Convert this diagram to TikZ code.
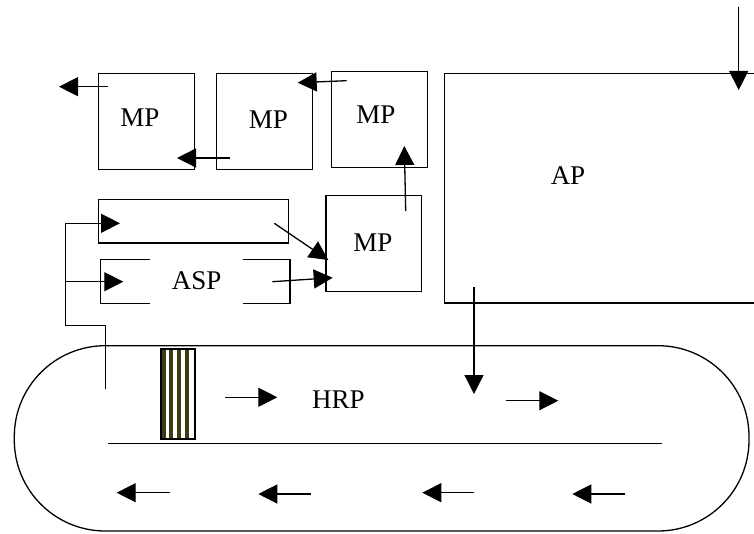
\documentclass[tikz,border=0pt]{standalone}
\usepackage{fontspec}
\setmainfont{Liberation Serif}
\usetikzlibrary{arrows.meta}
\definecolor{olivedark}{RGB}{62,58,18}
\begin{document}
\begin{tikzpicture}[x=0.5pt,y=-0.5pt,
  every node/.style={font=\fontsize{13.5}{15}\selectfont},
  ln/.style={line width=0.65pt},
  arr/.style={ln,-{Triangle[length=9.5pt,width=9.5pt]}},
  boxnode/.style={draw,ln,inner sep=0pt,anchor=north west},
  lbl/.style={inner sep=0pt}]
\useasboundingbox (0,0) rectangle (754,534);
\clip (0,0) rectangle (754,534);

% boxes
\node[boxnode,minimum width=48.2pt,minimum height=48pt] (mp1) at (97.7,72.7) {};
\node[lbl] (mp1t) at (140,117.3) {MP};
\node[boxnode,minimum width=48pt,minimum height=48pt] (mp2) at (216,72.7) {};
\node[lbl] (mp2t) at (268.3,119.3) {MP};
\node[boxnode,minimum width=48.2pt,minimum height=47.8pt] (mp3) at (330.7,71) {};
\node[lbl] (mp3t) at (376,115) {MP};
\node[boxnode,minimum width=47.8pt,minimum height=48pt] (mp4) at (325.3,195) {};
\node[lbl] (mp4t) at (373,243) {MP};
\node[boxnode,minimum width=160pt,minimum height=114.8pt] (ap) at (443.7,72.7) {};
\node[lbl] (apt) at (568,175.7) {AP};
\node[boxnode,minimum width=95pt,minimum height=21.7pt] (rect) at (97.7,199) {};
\node[boxnode,minimum width=94.8pt,minimum height=21.8pt] (asp) at (99.7,259) {};
\node[fill=white,inner sep=0pt,minimum width=46.5pt,minimum height=25pt] (aspt) at (196.7,281) {ASP};

% HRP track
\draw[ln,rounded corners=45.5pt] (14.3,345.7) rectangle (749,531);
\coordinate (il) at (108.3,443.7);
\coordinate (ir) at (662.3,443.7);
\draw[ln] (il) -- (ir);
\node[lbl] (hrp) at (338.3,400) {HRP};

% striped block
\node[draw,ln,fill=white,inner sep=0pt,anchor=north west,minimum width=16.3pt,minimum height=44.6pt] (stripe) at (161,349) {};
\foreach \s in {161.5,169,177,185}{
  \fill[olivedark] (\s,349.8) rectangle (\s+4,437.6);
}
\draw[ln] (stripe.north west) rectangle (stripe.south east);

% connectors
\coordinate (a1s) at (108,86.7); \coordinate (a1e) at (59,86.7);
\draw[arr] (a1s) -- (a1e);
\coordinate (a2s) at (230,158); \coordinate (a2e) at (177,158);
\draw[arr] (a2s) -- (a2e);
\coordinate (a3s) at (346.7,80.7); \coordinate (a3e) at (297.7,82.7);
\draw[arr] (a3s) -- (a3e);
\coordinate (a4s) at (405.7,211); \coordinate (a4e) at (404.3,146);
\draw[arr] (a4s) -- (a4e);
\coordinate (a5s) at (274.3,223.3); \coordinate (a5e) at (328.3,260);
\draw[arr] (a5s) -- (a5e);
\coordinate (a6s) at (272.3,281.7); \coordinate (a6e) at (332.7,277.7);
\draw[arr] (a6s) -- (a6e);

% feedback bracket
\coordinate (b0) at (105.3,389.3);
\coordinate (b1) at (65.7,325.3);
\coordinate (b2) at (120,223.3);
\coordinate (b3s) at (65.7,281.7);
\coordinate (b3e) at (123.3,281.7);
\draw[arr] (b0) |- (b1) |- (b2);
\draw[arr] (b3s) -- (b3e);

% AP arrows
\coordinate (c1s) at (474,287.3); \coordinate (c1e) at (474,394);
\draw[arr] (c1s) -- (c1e);
\coordinate (c2s) at (738.7,6.7); \coordinate (c2e) at (738.7,90);
\draw[arr] (c2s) -- (c2e);

% flow arrows
\coordinate (f1s) at (225.3,397.3); \coordinate (f1e) at (277.3,397.3);
\draw[arr] (f1s) -- (f1e);
\coordinate (f2s) at (505.7,400.7); \coordinate (f2e) at (558.3,400.7);
\draw[arr] (f2s) -- (f2e);
\coordinate (g1s) at (170,492.7); \coordinate (g1e) at (116.7,492.7);
\draw[arr] (g1s) -- (g1e);
\coordinate (g2s) at (310.7,494); \coordinate (g2e) at (258.3,494);
\draw[arr] (g2s) -- (g2e);
\coordinate (g3s) at (474.3,492.7); \coordinate (g3e) at (422.3,492.7);
\draw[arr] (g3s) -- (g3e);
\coordinate (g4s) at (625,494); \coordinate (g4e) at (572.3,494);
\draw[arr] (g4s) -- (g4e);
\end{tikzpicture}
\end{document}
